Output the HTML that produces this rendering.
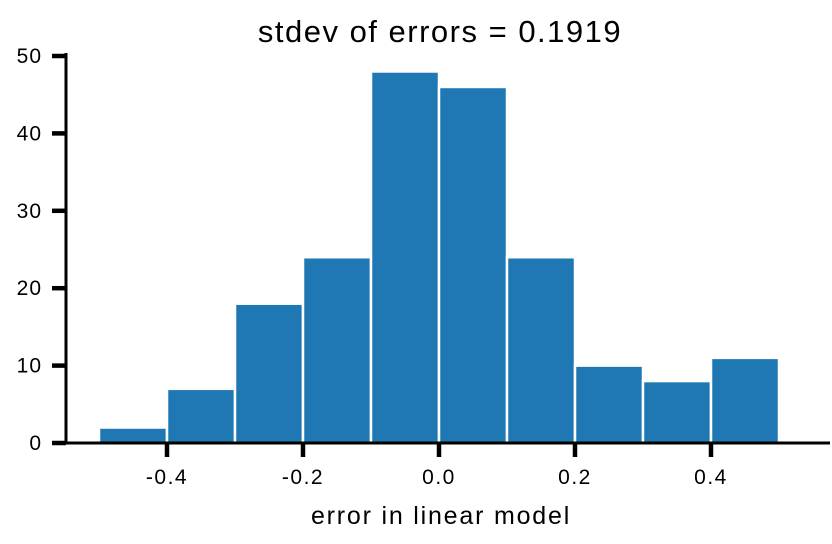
<!DOCTYPE html>
<html><head><meta charset="utf-8"><style>
body{margin:0;background:#fff;}
svg{display:block;font-family:"Liberation Sans",sans-serif;}
</style></head><body>
<svg id="chart" width="832" height="544">
<text x="440" y="42" font-size="31" letter-spacing="1.5" text-anchor="middle">stdev of errors = 0.1919</text>
<g id="bars"></g>
<g id="axes"></g>
<text x="441" y="524" font-size="25" letter-spacing="1.8" text-anchor="middle">error in linear model</text>
</svg>
<script>
const binEdges = [-0.5,-0.4,-0.3,-0.2,-0.1,0.0,0.1,0.2,0.3,0.4,0.5];
const counts = [2,7,18,24,48,46,24,10,8,11];
const xTicks = [-0.4,-0.2,0.0,0.2,0.4];
const xTickLabels = ["-0.4","-0.2","0.0","0.2","0.4"];
const yTicks = [0,10,20,30,40,50];
const yTickLabels = ["0","10","20","30","40","50"];
const NS="http://www.w3.org/2000/svg";
function X(v){return 439+v*680;}
function Y(v){return 443-v*7.74;}
const bars=document.getElementById('bars'), axes=document.getElementById('axes');
function mk(tag,attrs,parent){const e=document.createElementNS(NS,tag);for(const k in attrs)e.setAttribute(k,attrs[k]);parent.appendChild(e);return e;}
counts.forEach((c,i)=>{
  const x0=X(binEdges[i]), x1=X(binEdges[i+1]);
  const r=mk('rect',{x:x0,y:Y(c),width:x1-x0,height:Y(0)-Y(c),fill:'#1f77b4',stroke:'#fff','stroke-width':2.5},bars);
  
  
});
const ya=mk('line',{x1:66,y1:Y(50)-3,x2:66,y2:Y(0),stroke:'#000','stroke-width':3},axes);


const xa=mk('line',{x1:66,y1:Y(0),x2:830,y2:Y(0),stroke:'#000','stroke-width':3},axes);


yTicks.forEach((t,i)=>{
  const y=Y(t);
  mk('line',{x1:52,y1:y,x2:66,y2:y,stroke:'#000','stroke-width':4.5},axes);
  const tx=mk('text',{x:42,y:y+7,'font-size':21,'letter-spacing':1,'text-anchor':'end'},axes);
  tx.textContent=yTickLabels[i];
  
  
});
xTicks.forEach((t,i)=>{
  const x=X(t);
  mk('line',{x1:x,y1:Y(0),x2:x,y2:Y(0)+14,stroke:'#000','stroke-width':4.5},axes);
  const tx=mk('text',{x:x,y:484,'font-size':21,'letter-spacing':1.5,'text-anchor':'middle'},axes);
  tx.textContent=xTickLabels[i];
  
  
});
</script>
</body></html>
